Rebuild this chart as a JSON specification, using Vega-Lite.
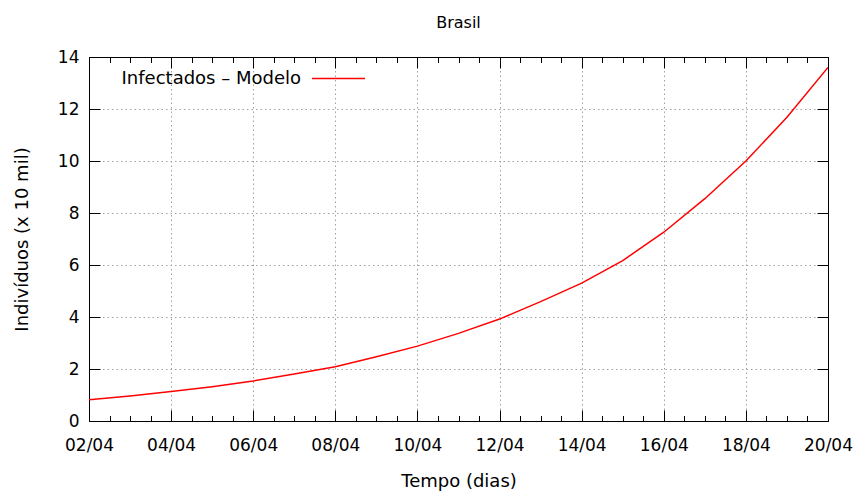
{
  "$schema": "https://vega.github.io/schema/vega-lite/v6.json",
  "width": 739,
  "height": 364,
  "autosize": {"type": "none"},
  "padding": {"left": 89, "top": 57, "right": 31, "bottom": 72},
  "background": "white",
  "title": {
    "text": "Brasil",
    "font": "DejaVu Sans",
    "fontSize": 16,
    "fontWeight": "normal",
    "color": "black",
    "anchor": "middle",
    "frame": "group",
    "offset": 4,
    "baseline": "alphabetic"
  },
  "data": {
    "values": [
      {"dia": 2, "data": "02/04", "infectados": 0.82},
      {"dia": 3, "data": "03/04", "infectados": 0.96},
      {"dia": 4, "data": "04/04", "infectados": 1.13},
      {"dia": 5, "data": "05/04", "infectados": 1.32},
      {"dia": 6, "data": "06/04", "infectados": 1.54},
      {"dia": 7, "data": "07/04", "infectados": 1.81},
      {"dia": 8, "data": "08/04", "infectados": 2.09},
      {"dia": 9, "data": "09/04", "infectados": 2.47},
      {"dia": 10, "data": "10/04", "infectados": 2.88},
      {"dia": 11, "data": "11/04", "infectados": 3.37},
      {"dia": 12, "data": "12/04", "infectados": 3.92},
      {"dia": 13, "data": "13/04", "infectados": 4.59},
      {"dia": 14, "data": "14/04", "infectados": 5.3},
      {"dia": 15, "data": "15/04", "infectados": 6.17},
      {"dia": 16, "data": "16/04", "infectados": 7.26},
      {"dia": 17, "data": "17/04", "infectados": 8.55},
      {"dia": 18, "data": "18/04", "infectados": 10.0},
      {"dia": 19, "data": "19/04", "infectados": 11.68},
      {"dia": 20, "data": "20/04", "infectados": 13.6}
    ]
  },
  "layer": [
    {
      "mark": {"type": "line", "strokeWidth": 1.5, "clip": true},
      "encoding": {
        "x": {
          "field": "dia",
          "type": "quantitative",
          "scale": {"domain": [2, 20], "nice": false, "zero": false},
          "axis": {
            "orient": "bottom",
            "values": [2, 2.5, 3, 3.5, 4, 4.5, 5, 5.5, 6, 6.5, 7, 7.5, 8, 8.5, 9, 9.5, 10, 10.5, 11, 11.5, 12, 12.5, 13, 13.5, 14, 14.5, 15, 15.5, 16, 16.5, 17, 17.5, 18, 18.5, 19, 19.5, 20],
            "tickSize": {"condition": {"test": "datum.value % 2 === 0", "value": -11}, "value": -5.5},
            "gridOpacity": {"condition": {"test": "datum.value % 2 === 0", "value": 1}, "value": 0},
            "labelExpr": "datum.value % 2 === 0 ? (datum.value < 10 ? '0' : '') + datum.value + '/04' : ''",
            "labelOverlap": false,
            "labelFlush": false,
            "labelPadding": 27,
            "title": "Tempo (dias)",
            "titlePadding": 14
          }
        },
        "y": {
          "field": "infectados",
          "type": "quantitative",
          "scale": {"domain": [0, 14], "nice": false},
          "axis": {
            "orient": "left",
            "values": [0, 2, 4, 6, 8, 10, 12, 14],
            "tickSize": -11,
            "labelPadding": 21,
            "title": "Indivíduos (x 10 mil)",
            "titlePadding": 26
          }
        },
        "color": {
          "datum": "Infectados – Modelo",
          "scale": {"range": ["#ff0000"]},
          "legend": {
            "title": null,
            "orient": "none",
            "legendX": 222,
            "legendY": -6,
            "padding": 0,
            "symbolType": "stroke",
            "symbolSize": 2809,
            "symbolStrokeWidth": 1.5,
            "labelAlign": "right",
            "labelOffset": -65,
            "labelLimit": 400,
            "labelFont": "DejaVu Sans",
            "labelFontSize": 18,
            "labelColor": "black"
          }
        }
      }
    },
    {
      "mark": {"type": "line", "strokeOpacity": 0},
      "encoding": {
        "x": {
          "field": "dia",
          "type": "quantitative",
          "axis": {
            "orient": "top",
            "values": [2, 2.5, 3, 3.5, 4, 4.5, 5, 5.5, 6, 6.5, 7, 7.5, 8, 8.5, 9, 9.5, 10, 10.5, 11, 11.5, 12, 12.5, 13, 13.5, 14, 14.5, 15, 15.5, 16, 16.5, 17, 17.5, 18, 18.5, 19, 19.5, 20],
            "tickSize": {"condition": {"test": "datum.value % 2 === 0", "value": -11}, "value": -5.5},
            "labels": false,
            "grid": false,
            "title": null
          }
        },
        "y": {
          "field": "infectados",
          "type": "quantitative",
          "axis": {
            "orient": "right",
            "values": [0, 2, 4, 6, 8, 10, 12, 14],
            "tickSize": -11,
            "labels": false,
            "grid": false,
            "title": null
          }
        }
      }
    }
  ],
  "resolve": {"axis": {"x": "independent", "y": "independent"}},
  "config": {
    "view": {"stroke": "black", "strokeWidth": 1},
    "axis": {
      "domainColor": "black",
      "domainWidth": 1,
      "tickColor": "black",
      "tickWidth": 1,
      "gridColor": "#a0a0a0",
      "gridDash": [1.5, 3],
      "gridWidth": 1,
      "labelFont": "DejaVu Sans",
      "labelFontSize": 17,
      "labelColor": "black",
      "titleFont": "DejaVu Sans",
      "titleFontSize": 18,
      "titleFontWeight": "normal",
      "titleColor": "black"
    }
  }
}
